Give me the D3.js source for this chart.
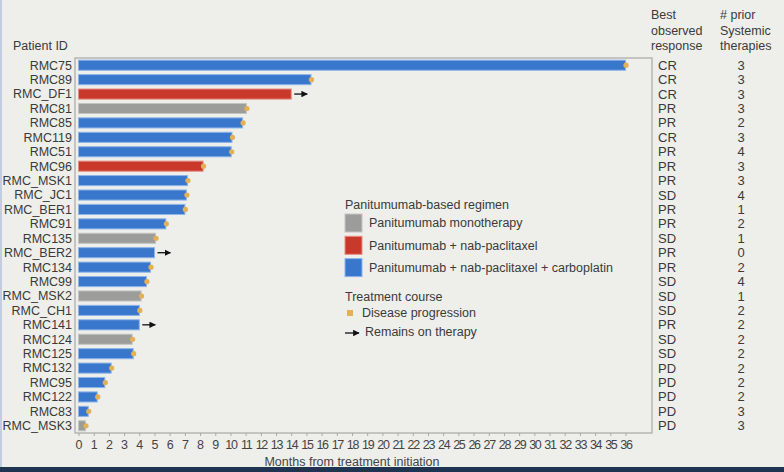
<!DOCTYPE html>
<html>
<head>
<meta charset="utf-8">
<script src="https://cdn.jsdelivr.net/npm/d3@7"></script>
<style>
  body { margin: 0; background: #eeeeeb; }
  svg { display: block; font-family: "Liberation Sans", Arial, sans-serif; }
</style>
</head>
<body>
<div id="chart"></div>
<script>
// Patients, top to bottom
const patients = ["RMC75", "RMC89", "RMC_DF1", "RMC81", "RMC85", "RMC119", "RMC51", "RMC96",
  "RMC_MSK1", "RMC_JC1", "RMC_BER1", "RMC91", "RMC135", "RMC_BER2", "RMC134", "RMC99",
  "RMC_MSK2", "RMC_CH1", "RMC141", "RMC124", "RMC125", "RMC132", "RMC95", "RMC122",
  "RMC83", "RMC_MSK3"];

// months from treatment initiation
const months = [36, 15.3, 14.0, 11.05, 10.8, 10.1, 10.05, 8.2,
  7.17, 7.1, 7.0, 5.75, 5.07, 5.0, 4.74, 4.47,
  4.12, 4.0, 4.0, 3.53, 3.6, 2.15, 1.73, 1.23,
  0.64, 0.46];

const regimen = ["carbo", "carbo", "nab", "mono", "carbo", "carbo", "carbo", "nab",
  "carbo", "carbo", "carbo", "carbo", "mono", "carbo", "carbo", "carbo",
  "mono", "carbo", "carbo", "mono", "carbo", "carbo", "carbo", "carbo",
  "carbo", "mono"];

// true = still on therapy (arrow), false = disease progression
const onTherapy = [false, false, true, false, false, false, false, false,
  false, false, false, false, false, true, false, false,
  false, false, true, false, false, false, false, false,
  false, false];

const bestResponse = ["CR", "CR", "CR", "PR", "PR", "CR", "PR", "PR",
  "PR", "SD", "PR", "PR", "SD", "PR", "PR", "SD",
  "SD", "SD", "PR", "SD", "SD", "PD", "PD", "PD",
  "PD", "PD"];

const priorTherapies = [3, 3, 3, 3, 2, 3, 4, 3, 3, 4, 1, 2, 1, 0, 2, 4, 1, 2, 2, 2, 2, 2, 2, 2, 3, 3];

const xTicks = d3.range(0, 37);

const regimenKeys = ["mono", "nab", "carbo"];
const regimenLabels = ["Panitumumab monotherapy", "Panitumumab + nab-paclitaxel",
  "Panitumumab + nab-paclitaxel + carboplatin"];
const regimenColors = ["#9c9c9a", "#c9392b", "#3977cc"];
const regimenStrokes = ["#c4c4c2", "#e58e80", "#8db4ea"];

const W = 784, H = 472;
const frame = { left: 75, right: 652, top: 58, bottom: 433 };

const data = patients.map((p, i) => ({
  id: p, months: months[i], regimen: regimen[i], onTherapy: onTherapy[i],
  response: bestResponse[i], prior: priorTherapies[i]
}));

const svg = d3.select("#chart").append("svg")
  .attr("width", W)
  .attr("height", H);

svg.append("rect").attr("width", W).attr("height", H).attr("fill", "#eeeeeb");

// scales
const x = d3.scaleLinear().domain([0, 36]).range([78.5, 625.5]);
const y = d3.scaleBand().domain(patients).range([frame.top, frame.bottom]).paddingInner(0.3).paddingOuter(0.15);
const color = d3.scaleOrdinal().domain(regimenKeys).range(regimenColors);
const strokeColor = d3.scaleOrdinal().domain(regimenKeys).range(regimenStrokes);

// frame
svg.append("rect")
  .attr("x", frame.left).attr("y", frame.top)
  .attr("width", frame.right - frame.left).attr("height", frame.bottom - frame.top)
  .attr("fill", "none").attr("stroke", "#a8a8a6").attr("stroke-width", 1.2);

// bars
svg.selectAll(".bar")
  .data(data)
  .enter()
  .append("rect")
  .attr("class", "bar")
  .attr("x", x(0))
  .attr("y", d => y(d.id))
  .attr("width", d => x(d.months) - x(0))
  .attr("height", y.bandwidth())
  .attr("fill", d => color(d.regimen))
  .attr("stroke", d => strokeColor(d.regimen))
  .attr("stroke-width", 1);

// progression markers
svg.selectAll(".prog")
  .data(data.filter(d => !d.onTherapy))
  .enter()
  .append("circle")
  .attr("class", "prog")
  .attr("cx", d => x(d.months) + 0.5)
  .attr("cy", d => y(d.id) + y.bandwidth() / 2)
  .attr("r", 2.6)
  .attr("fill", "#e3b055");

// arrowhead
svg.append("defs").append("marker")
  .attr("id", "arrow")
  .attr("viewBox", "0 0 10 10")
  .attr("refX", 9).attr("refY", 5)
  .attr("markerWidth", 5).attr("markerHeight", 5)
  .attr("orient", "auto")
  .append("path")
  .attr("d", "M0,0 L10,5 L0,10 Z")
  .attr("fill", "#111");

svg.selectAll(".arrow")
  .data(data.filter(d => d.onTherapy))
  .enter()
  .append("line")
  .attr("class", "arrow")
  .attr("x1", d => x(d.months) + 3)
  .attr("x2", d => x(d.months) + 16)
  .attr("y1", d => y(d.id) + y.bandwidth() / 2)
  .attr("y2", d => y(d.id) + y.bandwidth() / 2)
  .attr("stroke", "#111")
  .attr("stroke-width", 1.3)
  .attr("marker-end", "url(#arrow)");

// patient labels
svg.selectAll(".pid")
  .data(data)
  .enter()
  .append("text")
  .attr("class", "pid")
  .attr("x", 72)
  .attr("y", d => y(d.id) + y.bandwidth() / 2)
  .attr("dy", "0.35em")
  .attr("text-anchor", "end")
  .style("font-size", "12.5px")
  .attr("fill", "#3a3a3a")
  .text(d => d.id);

svg.append("text")
  .attr("x", 13).attr("y", 50)
  .style("font-size", "12.5px")
  .attr("fill", "#3a3a3a")
  .text("Patient ID");

// x axis
const xAxis = d3.axisBottom(x).tickValues(xTicks).tickSize(3).tickPadding(4).tickFormat(d3.format("d"));
const gx = svg.append("g")
  .attr("transform", "translate(0," + frame.bottom + ")")
  .call(xAxis);
gx.select(".domain").remove();
gx.selectAll(".tick line").attr("stroke", "#a8a8a6");
gx.selectAll(".tick text")
  .attr("fill", "#444")
  .style("font-size", "12.5px")
  .style("font-family", "'Liberation Sans', Arial, sans-serif")
  .style("letter-spacing", d => d >= 10 ? "-1.3px" : "0px");

svg.append("text")
  .attr("x", 352).attr("y", 466)
  .attr("text-anchor", "middle")
  .style("font-size", "12.5px")
  .attr("fill", "#444")
  .text("Months from treatment initiation");

// right columns
const respHeader = ["Best", "observed", "response"];
const priorHeader = ["# prior", "Systemic", "therapies"];
svg.selectAll(".rh")
  .data(respHeader)
  .enter()
  .append("text")
  .attr("x", 651).attr("y", (d, i) => 19 + i * 15.5)
  .style("font-size", "12.5px").attr("fill", "#3a3a3a")
  .text(d => d);
svg.selectAll(".ph")
  .data(priorHeader)
  .enter()
  .append("text")
  .attr("x", 720).attr("y", (d, i) => 19 + i * 15.5)
  .style("font-size", "12.5px").attr("fill", "#3a3a3a")
  .text(d => d);

svg.selectAll(".resp")
  .data(data)
  .enter()
  .append("text")
  .attr("x", 658)
  .attr("y", d => y(d.id) + y.bandwidth() / 2)
  .attr("dy", "0.35em")
  .style("font-size", "13px").attr("fill", "#3a3a3a")
  .text(d => d.response);

svg.selectAll(".prior")
  .data(data)
  .enter()
  .append("text")
  .attr("x", 741)
  .attr("y", d => y(d.id) + y.bandwidth() / 2)
  .attr("dy", "0.35em")
  .attr("text-anchor", "middle")
  .style("font-size", "13px").attr("fill", "#3a3a3a")
  .text(d => d.prior);

// legend
const lg = svg.append("g").attr("transform", "translate(345,0)");
lg.append("text").attr("x", 0).attr("y", 209)
  .style("font-size", "12.5px").attr("fill", "#3a3a3a")
  .text("Panitumumab-based regimen");
const items = lg.selectAll(".li")
  .data(regimenKeys)
  .enter()
  .append("g")
  .attr("transform", (d, i) => "translate(0," + (214 + i * 22.3) + ")");
items.append("rect")
  .attr("width", 17).attr("height", 18)
  .attr("fill", d => color(d))
  .attr("stroke", d => strokeColor(d)).attr("stroke-width", 1);
items.append("text")
  .attr("x", 24).attr("y", 9).attr("dy", "0.35em")
  .style("font-size", "12.5px").attr("fill", "#3a3a3a")
  .text((d, i) => regimenLabels[i]);

lg.append("text").attr("x", 0).attr("y", 301)
  .style("font-size", "12.5px").attr("fill", "#3a3a3a")
  .text("Treatment course");
lg.append("rect").attr("x", 2).attr("y", 310).attr("width", 6).attr("height", 6).attr("fill", "#e3b055");
lg.append("text").attr("x", 17).attr("y", 313).attr("dy", "0.35em")
  .style("font-size", "12.5px").attr("fill", "#3a3a3a")
  .text("Disease progression");
lg.append("line")
  .attr("x1", 0).attr("x2", 14).attr("y1", 333).attr("y2", 333)
  .attr("stroke", "#111").attr("stroke-width", 1.3)
  .attr("marker-end", "url(#arrow)");
lg.append("text").attr("x", 20).attr("y", 332).attr("dy", "0.35em")
  .style("font-size", "12.5px").attr("fill", "#3a3a3a")
  .text("Remains on therapy");

// bottom band and left edge of the slide
svg.append("rect").attr("x", 0).attr("y", 467).attr("width", W).attr("height", 5).attr("fill", "#1e3450");
svg.append("rect").attr("x", 0).attr("y", 0).attr("width", 2).attr("height", 467).attr("fill", "#c3cde0");
</script>
</body>
</html>
